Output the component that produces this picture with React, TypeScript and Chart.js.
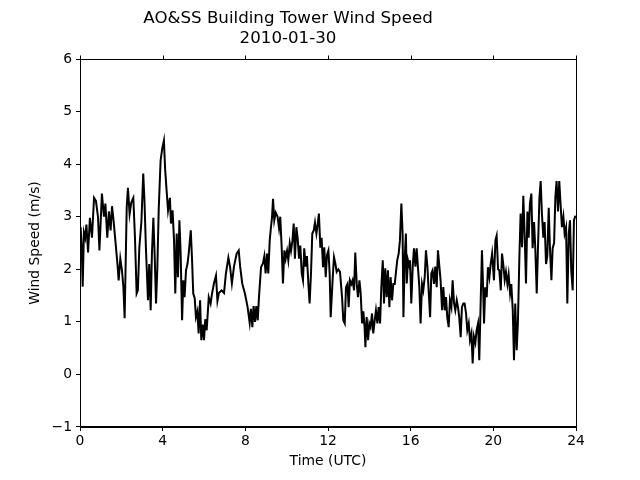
import React, { useEffect, useRef } from "react";
import { Chart, registerables } from "chart.js";

Chart.register(...registerables);

const TITLE_LINES = ["AO&SS Building Tower Wind Speed", "2010-01-30"];
const X_LABEL = "Time (UTC)";
const Y_LABEL = "Wind Speed (m/s)";
const X_TICKS = [0, 4, 8, 12, 16, 20, 24];
const Y_TICKS = [-1, 0, 1, 2, 3, 4, 5, 6];

// hours since 00 UTC
const TIME_H = [
  0.00, 0.03, 0.08, 0.13, 0.19, 0.25, 0.31, 0.39, 0.48, 0.58,
  0.68, 0.77, 0.87, 0.94, 1.06, 1.16, 1.23, 1.32, 1.40, 1.48,
  1.55, 1.63, 1.71, 1.81, 1.87, 1.95, 2.03, 2.10, 2.16, 2.26,
  2.32, 2.40, 2.48, 2.58, 2.66, 2.74, 2.80, 2.87, 2.97, 3.06,
  3.12, 3.19, 3.29, 3.35, 3.42, 3.48, 3.55, 3.61, 3.68, 3.74,
  3.81, 3.90, 3.98, 4.06, 4.12, 4.19, 4.26, 4.35, 4.40, 4.48,
  4.55, 4.61, 4.68, 4.74, 4.81, 4.87, 4.94, 5.00, 5.06, 5.13,
  5.20, 5.26, 5.36, 5.42, 5.48, 5.55, 5.61, 5.68, 5.74, 5.81,
  5.87, 5.94, 6.00, 6.06, 6.13, 6.23, 6.32, 6.39, 6.48, 6.58,
  6.65, 6.72, 6.85, 6.97, 7.06, 7.18, 7.26, 7.35, 7.45, 7.58,
  7.68, 7.75, 7.85, 7.98, 8.11, 8.21, 8.27, 8.34, 8.40, 8.47,
  8.53, 8.60, 8.66, 8.76, 8.85, 8.92, 8.98, 9.05, 9.11, 9.18,
  9.24, 9.29, 9.34, 9.40, 9.47, 9.56, 9.63, 9.69, 9.76, 9.82,
  9.89, 9.95, 10.02, 10.08, 10.15, 10.21, 10.28, 10.34, 10.40, 10.47,
  10.53, 10.60, 10.66, 10.73, 10.79, 10.85, 10.92, 10.98, 11.05, 11.11,
  11.18, 11.24, 11.31, 11.37, 11.44, 11.50, 11.56, 11.63, 11.69, 11.76,
  11.82, 11.89, 11.95, 12.02, 12.08, 12.13, 12.23, 12.29, 12.36, 12.42,
  12.50, 12.58, 12.68, 12.74, 12.81, 12.87, 12.94, 13.00, 13.06, 13.13,
  13.19, 13.26, 13.32, 13.39, 13.45, 13.52, 13.58, 13.65, 13.71, 13.77,
  13.81, 13.87, 13.94, 14.00, 14.06, 14.13, 14.19, 14.26, 14.32, 14.39,
  14.45, 14.52, 14.58, 14.65, 14.71, 14.77, 14.84, 14.90, 14.97, 15.03,
  15.10, 15.16, 15.23, 15.29, 15.35, 15.42, 15.48, 15.55, 15.61, 15.65,
  15.71, 15.77, 15.81, 15.87, 15.94, 15.97, 16.03, 16.10, 16.16, 16.23,
  16.29, 16.35, 16.42, 16.48, 16.55, 16.61, 16.68, 16.74, 16.81, 16.87,
  16.94, 17.00, 17.06, 17.13, 17.19, 17.26, 17.32, 17.39, 17.45, 17.52,
  17.58, 17.65, 17.71, 17.77, 17.84, 17.90, 17.97, 18.03, 18.10, 18.16,
  18.23, 18.29, 18.35, 18.42, 18.48, 18.55, 18.61, 18.68, 18.74, 18.81,
  18.87, 18.94, 19.00, 19.06, 19.13, 19.19, 19.26, 19.32, 19.39, 19.45,
  19.50, 19.55, 19.61, 19.68, 19.74, 19.81, 19.87, 19.94, 20.03, 20.10,
  20.16, 20.23, 20.29, 20.36, 20.42, 20.48, 20.55, 20.61, 20.68, 20.74,
  20.81, 20.87, 20.94, 21.00, 21.06, 21.13, 21.19, 21.26, 21.32, 21.39,
  21.45, 21.52, 21.58, 21.65, 21.71, 21.77, 21.84, 21.90, 21.97, 22.03,
  22.10, 22.16, 22.23, 22.29, 22.35, 22.42, 22.48, 22.55, 22.61, 22.68,
  22.74, 22.81, 22.87, 22.94, 23.00, 23.06, 23.13, 23.19, 23.26, 23.32,
  23.39, 23.45, 23.52, 23.58, 23.65, 23.71, 23.77, 23.84, 23.90, 23.97,
];

// wind speed, m/s
const WIND_MS = [
  2.55, 2.8, 2.45, 1.67, 2.7, 2.6, 2.85, 2.32, 2.98, 2.6,
  3.36, 3.3, 3.0, 2.36, 3.44, 3.0, 3.25, 2.6, 3.1, 2.74,
  3.2, 2.9, 2.55, 2.11, 1.79, 2.2, 1.98, 1.66, 1.07, 3.17,
  3.55, 3.05, 3.27, 3.36, 2.6, 1.54, 1.6, 2.41, 2.9, 3.82,
  3.3, 2.4, 1.41, 2.1, 1.22, 2.3, 2.98, 2.3, 1.35, 2.0,
  3.15, 4.07, 4.3, 4.45, 3.9, 3.5, 3.12, 3.36, 2.87, 3.12,
  2.55, 1.54, 2.68, 1.85, 2.93, 2.3, 1.03, 1.79, 1.47, 1.98,
  2.1, 2.3, 2.74, 2.2, 1.54, 1.45, 1.09, 1.2, 0.78, 1.41,
  0.65, 0.95, 0.65, 1.05, 0.84, 1.47, 1.35, 1.54, 1.73, 1.88,
  1.4, 1.55, 1.6, 1.55, 1.92, 2.22, 2.05, 1.73, 2.05, 2.3,
  2.36, 2.05, 1.73, 1.54, 1.28, 0.98, 1.25, 0.9, 1.3, 1.0,
  1.3, 1.03, 1.47, 2.04, 2.11, 2.25, 1.92, 2.3, 1.92, 2.55,
  2.8, 2.98, 3.34, 2.93, 3.08, 3.0, 2.78, 3.0, 2.41, 1.73,
  2.36, 2.2, 2.35, 2.17, 2.49, 2.35, 2.55, 2.87, 2.2, 2.8,
  2.6, 2.2, 2.45, 1.92, 1.79, 2.4, 2.05, 2.25, 1.73, 1.35,
  1.95, 2.68, 2.74, 2.89, 2.68, 2.85, 3.06, 2.41, 2.6, 2.04,
  2.42, 1.85, 2.27, 2.36, 1.92, 1.09, 1.85, 2.23, 2.1, 1.95,
  2.0, 1.95, 1.47, 1.03, 0.97, 1.66, 1.72, 1.28, 1.79, 1.72,
  1.79, 1.6, 2.32, 1.72, 1.47, 1.79, 1.55, 0.97, 1.2, 0.9,
  0.52, 1.09, 0.65, 0.97, 0.9, 1.16, 0.78, 1.03, 1.22, 0.97,
  1.28, 0.97, 1.66, 2.17, 1.35, 2.02, 1.47, 1.98, 1.28, 1.85,
  1.41, 1.72, 1.72, 1.95, 2.17, 2.3, 2.55, 3.25, 2.68, 1.09,
  2.2, 2.68, 1.73, 2.17, 2.05, 2.17, 1.35, 2.05, 2.4, 2.05,
  2.4, 2.05, 1.66, 0.97, 1.72, 1.6, 1.85, 2.36, 2.05, 1.6,
  1.09, 1.92, 1.98, 1.72, 2.05, 1.66, 2.36, 2.05, 1.78, 1.22,
  1.66, 1.22, 1.47, 1.09, 0.9, 1.41, 1.28, 1.79, 1.35, 1.22,
  1.41, 1.28, 1.09, 0.71, 1.28, 1.35, 1.35, 1.16, 0.84, 0.97,
  0.65, 0.78, 0.21, 0.72, 0.6, 0.84, 0.97, 0.27, 1.41, 2.36,
  1.72, 0.97, 1.66, 1.47, 2.04, 1.85, 2.1, 2.3, 1.79, 2.55,
  2.64, 2.0, 1.98, 1.6, 2.3, 2.1, 1.8, 1.95, 1.72, 1.9,
  1.54, 1.72, 1.22, 0.27, 1.35, 0.46, 1.0, 2.23, 3.06, 2.42,
  3.4, 2.6, 1.73, 3.1, 2.6, 3.25, 3.44, 2.4, 2.9, 2.4,
  1.54, 2.4, 3.36, 3.68, 3.06, 2.6, 2.9, 2.1, 2.25, 3.17,
  2.4, 1.79, 2.4, 2.5, 3.36, 3.68, 3.1, 3.68, 3.2, 2.8,
  3.0, 2.68, 2.8, 1.35, 2.68, 2.93, 1.98, 1.6, 2.93, 3.02,
];

const FONT = "'DejaVu Sans', sans-serif";

const framePlugin = {
  id: "frame",
  afterDraw(chart: any) {
    const { ctx, chartArea } = chart;
    const xs = chart.scales.x;
    ctx.save();
    ctx.strokeStyle = "#000";
    ctx.lineWidth = 1;
    ctx.strokeRect(
      Math.round(chartArea.left) + 0.5,
      Math.round(chartArea.top) + 0.5,
      Math.round(chartArea.right - chartArea.left),
      Math.round(chartArea.bottom - chartArea.top)
    );
    // top tick marks, placed by the x scale
    ctx.beginPath();
    for (const t of X_TICKS) {
      const px = Math.round(xs.getPixelForValue(t)) + 0.5;
      ctx.moveTo(px, Math.round(chartArea.top));
      ctx.lineTo(px, Math.round(chartArea.top) - 3.5);
    }
    ctx.stroke();
    ctx.restore();
  },
};

export default function App() {
  const ref = useRef<HTMLCanvasElement | null>(null);

  useEffect(() => {
    if (!ref.current) return;
    const points = TIME_H.map((h, i) => ({ x: h, y: WIND_MS[i] }));
    const chart = new Chart(ref.current, {
      type: "line",
      data: {
        datasets: [
          {
            data: points,
            borderColor: "#000",
            borderWidth: 2,
            borderJoinStyle: "miter",
            pointRadius: 0,
            tension: 0,
            fill: false,
          },
        ],
      },
      options: {
        animation: false,
        responsive: false,
        maintainAspectRatio: false,
        layout: { padding: { left: 0, right: 64, top: 0, bottom: 0 } },
        plugins: {
          legend: { display: false },
          tooltip: { enabled: false },
          title: {
            display: true,
            text: TITLE_LINES,
            color: "#000",
            font: { family: FONT, size: 16.67, weight: "normal", lineHeight: 1.2 },
            padding: { top: 8.5, bottom: 10.5 },
          },
        },
        scales: {
          x: {
            type: "linear",
            position: "bottom",
            min: 0,
            max: 24,
            afterBuildTicks: (s: any) => {
              s.ticks = X_TICKS.map((v) => ({ value: v }));
            },
            afterFit: (s: any) => {
              s.height = 53;
            },
            ticks: {
              color: "#000",
              font: { family: FONT, size: 13.9 },
              padding: 2,
              maxRotation: 0,
              autoSkip: false,
            },
            grid: {
              drawOnChartArea: false,
              drawTicks: true,
              tickLength: 4,
              color: "#000",
            },
            border: { display: true, color: "#000", width: 1 },
            title: {
              display: true,
              text: X_LABEL,
              color: "#000",
              font: { family: FONT, size: 13.9, lineHeight: 1.2 },
              padding: { top: 0, bottom: 10.5 },
            },
          },
          y: {
            type: "linear",
            position: "left",
            min: -1,
            max: 6,
            afterBuildTicks: (s: any) => {
              s.ticks = Y_TICKS.map((v) => ({ value: v }));
            },
            afterFit: (s: any) => {
              s.width = 80;
            },
            ticks: {
              color: "#000",
              font: { family: FONT, size: 13.9 },
              padding: 4,
              autoSkip: false,
              callback: (v: any) => String(v).replace("-", "\u2212"),
            },
            grid: {
              drawOnChartArea: false,
              drawTicks: true,
              tickLength: 4,
              color: "#000",
            },
            border: { display: true, color: "#000", width: 1 },
            title: {
              display: true,
              text: Y_LABEL,
              color: "#000",
              font: { family: FONT, size: 13.9, lineHeight: 1.2 },
              padding: { top: 27.5, bottom: 0 },
            },
          },
        },
      },
      plugins: [framePlugin],
    });
    return () => chart.destroy();
  }, []);

  return (
    <div style={{ position: "absolute", left: 0, top: 0, width: 640, height: 480, background: "#fff" }}>
      <canvas ref={ref} width={640} height={480} style={{ width: 640, height: 480 }} />
    </div>
  );
}
